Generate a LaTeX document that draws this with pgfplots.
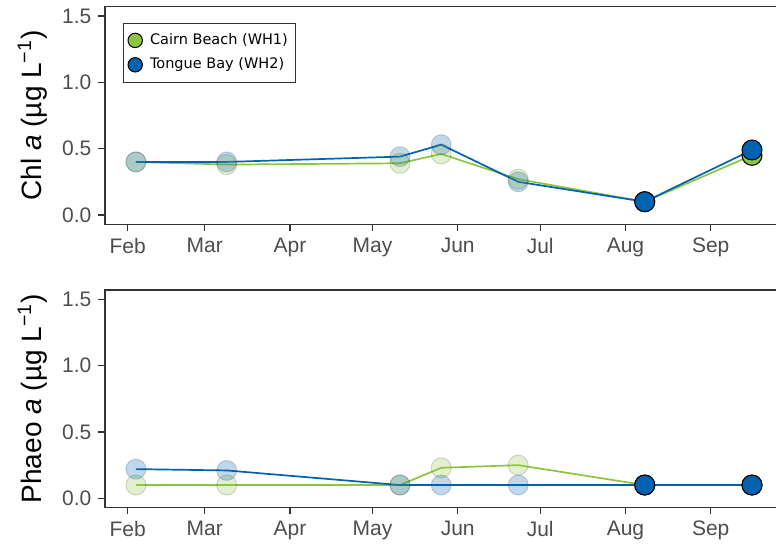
\documentclass[border=0pt]{standalone}
\usepackage{pgfplots}
\pgfplotsset{compat=1.18}
\usepackage{pgfplotstable}
\usepackage{fontspec}
\setmainfont{Liberation Sans}
\newfontfamily\legendfont{DejaVu Sans}

\definecolor{cgreen}{RGB}{140,197,64}
\definecolor{cblue}{RGB}{0,98,176}
\definecolor{axgrey}{RGB}{51,51,51}
\definecolor{lblgrey}{RGB}{77,77,77}

% day of year, Chl a (ug/L)
\pgfplotstableread{
day green blue
35  0.40 0.40
68  0.38 0.40
131 0.39 0.44
146 0.46 0.53
174 0.27 0.25
220 0.10 0.10
259 0.45 0.49
}\chltab

% day of year, Phaeo a (ug/L)
\pgfplotstableread{
day green blue
35  0.10 0.22
68  0.10 0.21
131 0.10 0.10
146 0.23 0.10
174 0.25 0.10
220 0.10 0.10
259 0.10 0.10
}\phaeotab

\pgfplotsset{
  panel/.style={
    scale only axis, width=340pt, height=108.8pt,
    xmin=23.75, xmax=271, ymin=-0.07, ymax=1.57,
    xtick={32,60,91,121,152,182,213,244},
    xticklabels={Feb,Mar,Apr,May,Jun,Jul,Aug,Sep},
    ytick={0,0.5,1,1.5},
    yticklabel style={/pgf/number format/.cd, fixed, fixed zerofill, precision=1},
    /pgf/number format/assume math mode=true,
    xtick pos=bottom, ytick pos=left, tick align=outside,
    major tick length=3.3pt,
    axis line style={axgrey, line width=0.7pt},
    tick style={axgrey, line width=0.7pt},
    tick label style={font=\fontsize{10.5}{12}\selectfont, text=lblgrey},
    every axis y label/.style={at={(axis description cs:-0.0934,0.5)}, rotate=90, anchor=base,
      font=\fontsize{14}{16}\selectfont},
  },
  ln/.style={line width=0.85pt, mark=none, forget plot},
  faded/.style={only marks, mark=*, mark size=5pt, forget plot,
    restrict x to domain=0:200,
    mark options={fill=#1, draw=black, fill opacity=0.25, draw opacity=0.15, line width=0.5pt}},
  solid/.style={only marks, mark=*, mark size=5pt, forget plot,
    restrict x to domain=200:300,
    mark options={fill=#1, draw=black, line width=0.5pt}},
  dot/.style={legend image code/.code={%
    \path[draw=none, fill=none] (0pt,0pt) -- (9.4pt,0pt);
    \draw[fill=#1, draw=black, line width=0.5pt] (3.6pt,0pt) circle (3.6pt);}},
}

\begin{document}
\begin{tikzpicture}

\begin{axis}[panel, at={(0,0)}, anchor=south west,
    ylabel={Chl \textit{a} (µg L\textsuperscript{−1})},
    legend cell align=left,
    legend style={at={(axis description cs:0.0265,0.9265)}, anchor=north west,
      draw=axgrey, line width=0.5pt, fill=white,
      font=\legendfont\fontsize{7.25}{8.7}\selectfont,
      inner xsep=2pt, inner ysep=3.5pt, row sep=2pt, nodes={inner sep=1.6pt}},
  ]
\addlegendimage{dot=cgreen}
\addlegendentry{Cairn Beach (WH1)}
\addlegendimage{dot=cblue}
\addlegendentry{Tongue Bay (WH2)}

\addplot[ln, cgreen] table[x=day, y=green] {\chltab};
\addplot[ln, cblue] table[x=day, y=blue] {\chltab};
\addplot[faded=cgreen] table[x=day, y=green] {\chltab};
\addplot[faded=cblue] table[x=day, y=blue] {\chltab};
\addplot[solid=cgreen] table[x=day, y=green] {\chltab};
\addplot[solid=cblue] table[x=day, y=blue] {\chltab};
\end{axis}

\begin{axis}[panel, at={(0,-32.85pt)}, anchor=north west,
    ylabel={Phaeo \textit{a} (µg L\textsuperscript{−1})},
  ]
\addplot[ln, cgreen] table[x=day, y=green] {\phaeotab};
\addplot[ln, cblue] table[x=day, y=blue] {\phaeotab};
\addplot[faded=cgreen] table[x=day, y=green] {\phaeotab};
\addplot[faded=cblue] table[x=day, y=blue] {\phaeotab};
\addplot[solid=cgreen] table[x=day, y=green] {\phaeotab};
\addplot[solid=cblue] table[x=day, y=blue] {\phaeotab};
\end{axis}

\pgfresetboundingbox
\useasboundingbox (-52.5pt,-162.35pt) rectangle (335.5pt,112.15pt);
\end{tikzpicture}
\end{document}
